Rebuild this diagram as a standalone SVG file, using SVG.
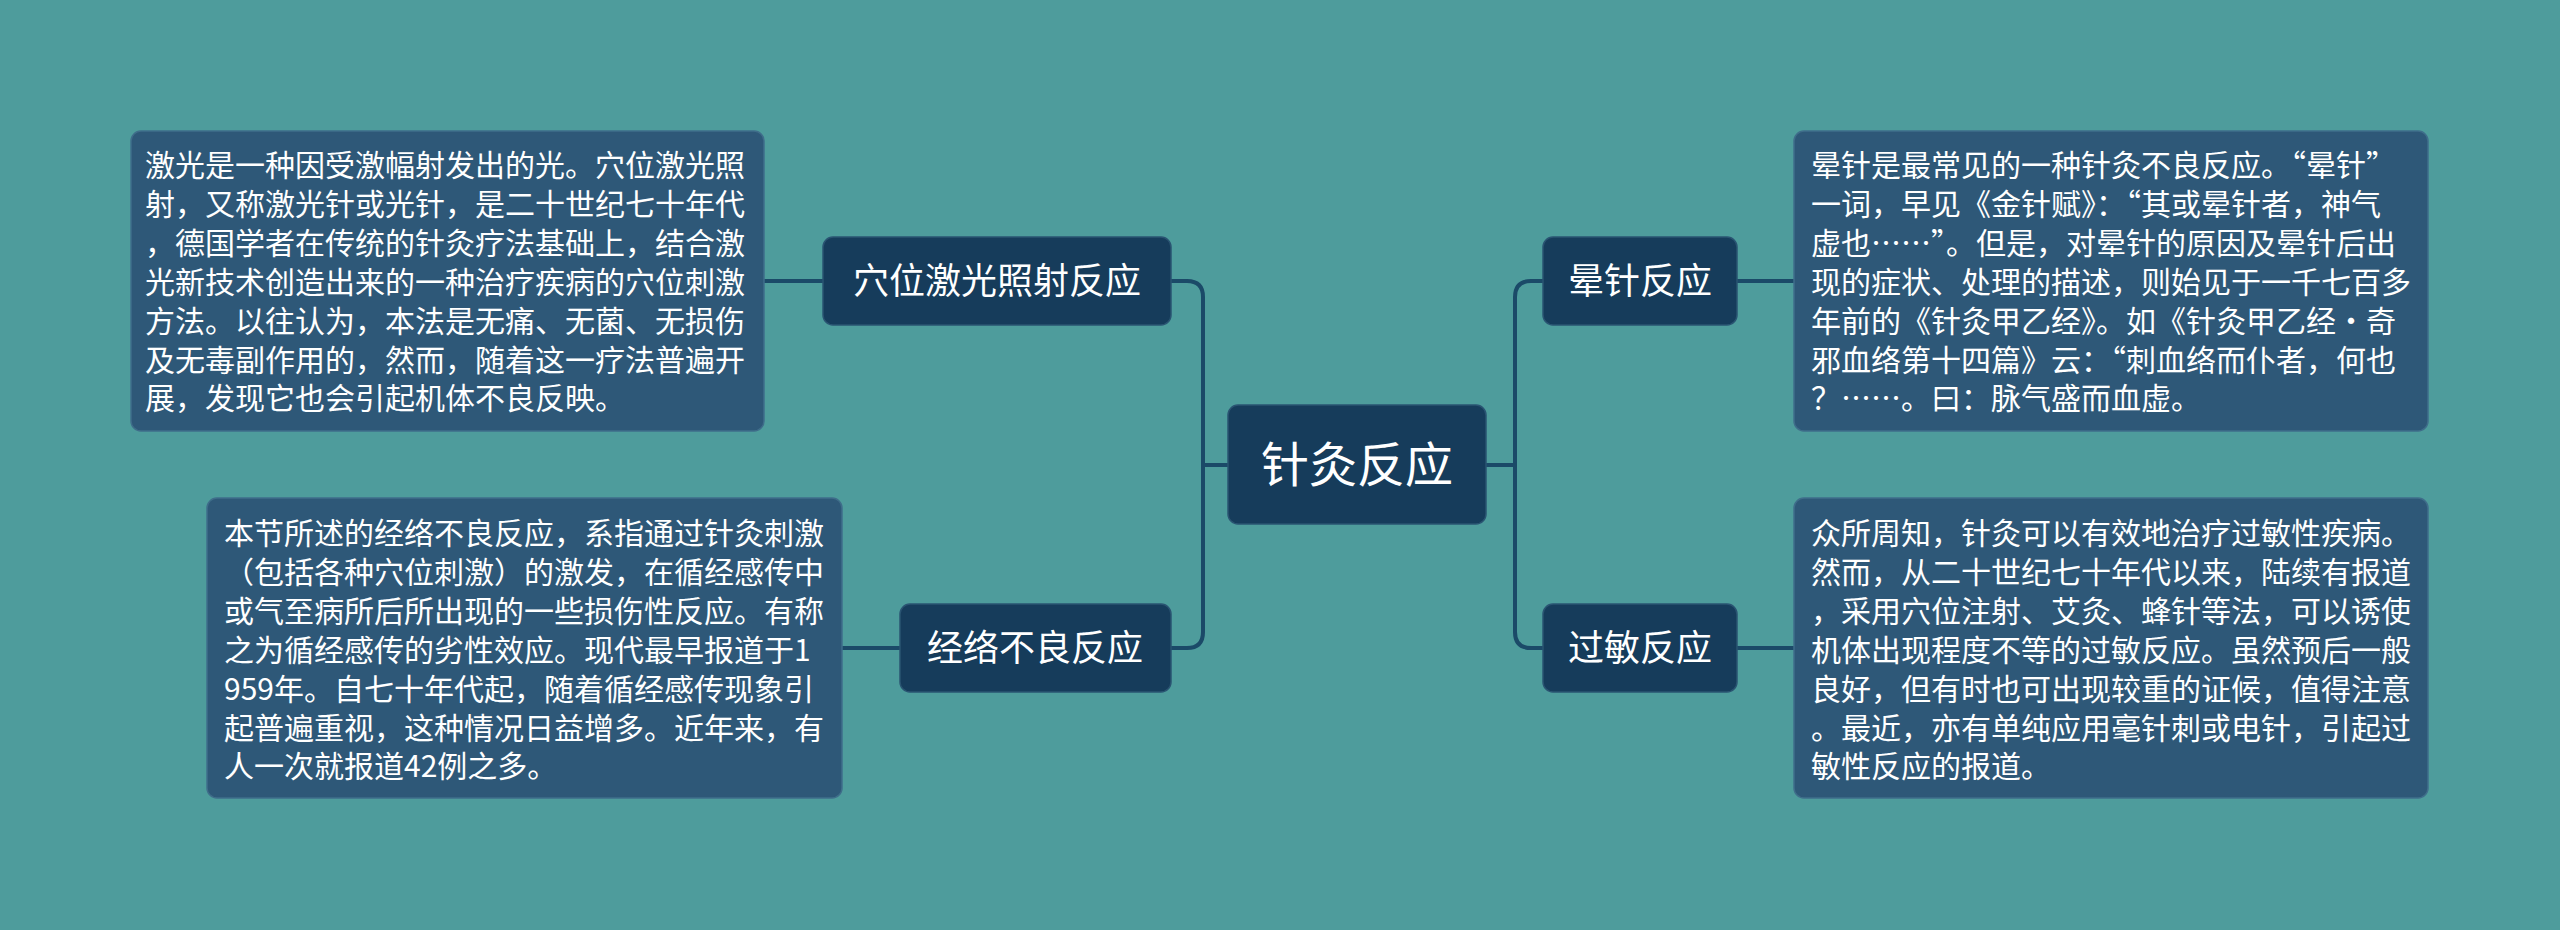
<svg xmlns="http://www.w3.org/2000/svg" width="2560" height="930" viewBox="0 0 2560 930">
<style>
.box{fill:#2e5878;stroke:#3f6d8a;stroke-width:1.5}
.node{fill:#163c5b;stroke:#2a5472;stroke-width:1.5}
.t{font-family:"Noto Sans CJK SC","Liberation Sans",sans-serif;fill:#ffffff}
.bt{font-size:30px}
.nt{font-size:36px;text-anchor:middle}
.ct{font-size:48px;text-anchor:middle}
.c{fill:none;stroke:#1b4a68;stroke-width:4}
</style>
<rect width="2560" height="930" fill="#4e9c9c"/>
<g id="connectors">
<path class="c" d="M1486 465 H1515 M1543 281 H1531 Q1515 281 1515 297 V632 Q1515 648 1531 648 H1543"/>
<path class="c" d="M1228 465 H1203 M1171 281 H1187 Q1203 281 1203 297 V632 Q1203 648 1187 648 H1171"/>
<path class="c" d="M823 281 H764 M900 648 H842 M1737 281 H1794 M1737 648 H1794"/>
</g>
<g id="center"><rect class="node" x="1228" y="405" width="258" height="119" rx="10"/><text class="t ct" x="1357" y="482">针灸反应</text></g>
<g id="n1"><rect class="node" x="823" y="237" width="348" height="88" rx="10"/><text class="t nt" x="997" y="294">穴位激光照射反应</text></g>
<g id="n2"><rect class="node" x="900" y="604" width="271" height="88" rx="10"/><text class="t nt" x="1035" y="661">经络不良反应</text></g>
<g id="n3"><rect class="node" x="1543" y="237" width="194" height="88" rx="10"/><text class="t nt" x="1640" y="294">晕针反应</text></g>
<g id="n4"><rect class="node" x="1543" y="604" width="194" height="88" rx="10"/><text class="t nt" x="1640" y="661">过敏反应</text></g>
<g id="b1"><rect class="box" x="131" y="131" width="633" height="300" rx="10"/>
<text class="t bt" x="145" y="176"><tspan x="145">激光是一种因受激幅射发出的光。穴位激光照</tspan><tspan x="145" dy="38.9">射，又称激光针或光针，是二十世纪七十年代</tspan><tspan x="145" dy="38.9">，德国学者在传统的针灸疗法基础上，结合激</tspan><tspan x="145" dy="38.9">光新技术创造出来的一种治疗疾病的穴位刺激</tspan><tspan x="145" dy="38.9">方法。以往认为，本法是无痛、无菌、无损伤</tspan><tspan x="145" dy="38.9">及无毒副作用的，然而，随着这一疗法普遍开</tspan><tspan x="145" dy="38.9">展，发现它也会引起机体不良反映。</tspan></text></g>
<g id="b2"><rect class="box" x="207" y="498" width="635" height="300" rx="10"/>
<text class="t bt" x="224" y="544"><tspan x="224">本节所述的经络不良反应，系指通过针灸刺激</tspan><tspan x="224" dy="38.9">（包括各种穴位刺激）的激发，在循经感传中</tspan><tspan x="224" dy="38.9">或气至病所后所出现的一些损伤性反应。有称</tspan><tspan x="224" dy="38.9">之为循经感传的劣性效应。现代最早报道于1</tspan><tspan x="224" dy="38.9">959年。自七十年代起，随着循经感传现象引</tspan><tspan x="224" dy="38.9">起普遍重视，这种情况日益增多。近年来，有</tspan><tspan x="224" dy="38.9">人一次就报道42例之多。</tspan></text></g>
<g id="b3"><rect class="box" x="1794" y="131" width="634" height="300" rx="10"/>
<text class="t bt" x="1811" y="176"><tspan x="1811">晕针是最常见的一种针灸不良反应。“晕针”</tspan><tspan x="1811" dy="38.9">一词，早见《金针赋》：“其或晕针者，神气</tspan><tspan x="1811" dy="38.9">虚也……”。但是，对晕针的原因及晕针后出</tspan><tspan x="1811" dy="38.9">现的症状、处理的描述，则始见于一千七百多</tspan><tspan x="1811" dy="38.9">年前的《针灸甲乙经》。如《针灸甲乙经·奇</tspan><tspan x="1811" dy="38.9">邪血络第十四篇》云：“刺血络而仆者，何也</tspan><tspan x="1811" dy="38.9">？……。曰：脉气盛而血虚。</tspan></text></g>
<g id="b4"><rect class="box" x="1794" y="498" width="634" height="300" rx="10"/>
<text class="t bt" x="1811" y="544"><tspan x="1811">众所周知，针灸可以有效地治疗过敏性疾病。</tspan><tspan x="1811" dy="38.9">然而，从二十世纪七十年代以来，陆续有报道</tspan><tspan x="1811" dy="38.9">，采用穴位注射、艾灸、蜂针等法，可以诱使</tspan><tspan x="1811" dy="38.9">机体出现程度不等的过敏反应。虽然预后一般</tspan><tspan x="1811" dy="38.9">良好，但有时也可出现较重的证候，值得注意</tspan><tspan x="1811" dy="38.9">。最近，亦有单纯应用毫针刺或电针，引起过</tspan><tspan x="1811" dy="38.9">敏性反应的报道。</tspan></text></g>
</svg>
